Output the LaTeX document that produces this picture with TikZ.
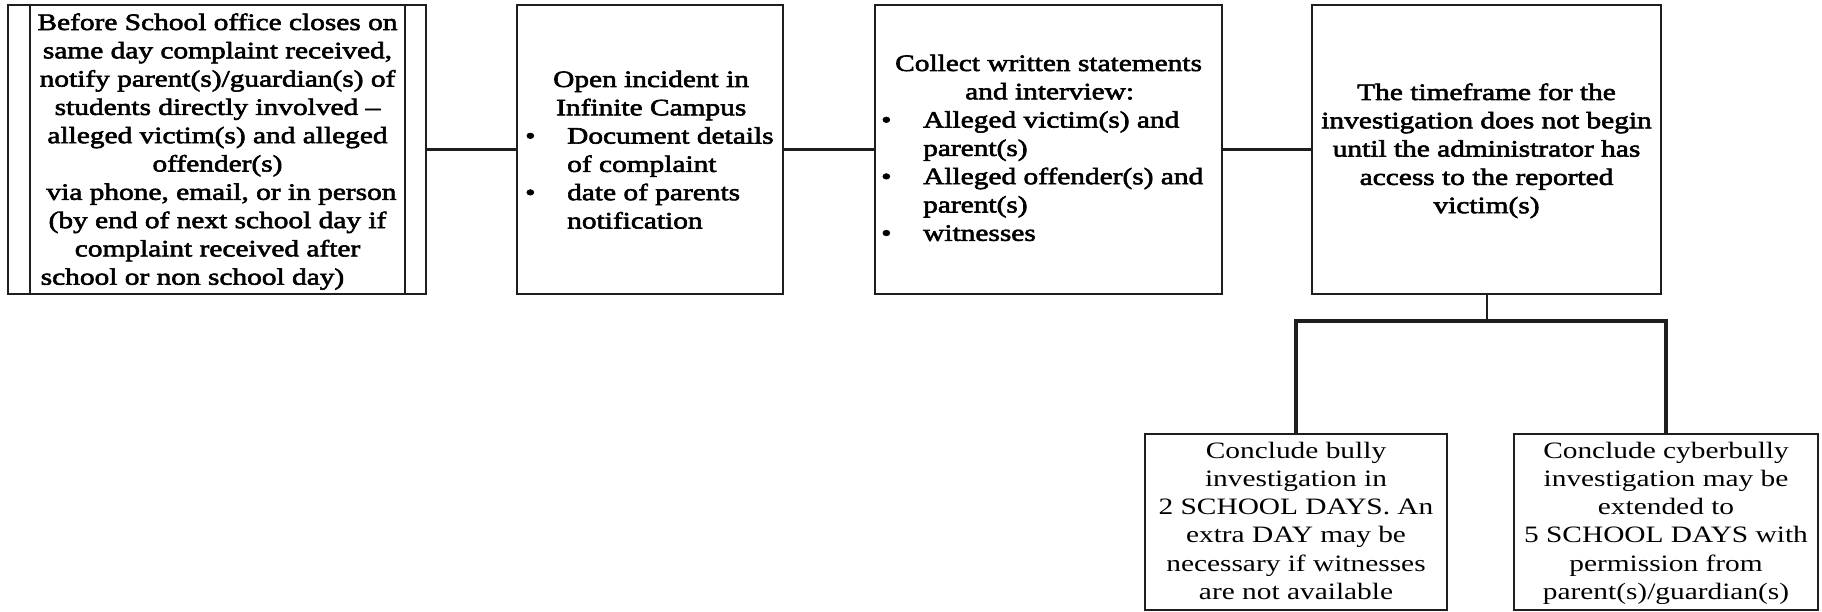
\documentclass[tikz,border=0pt]{standalone}
\usepackage{fontspec}
\setmainfont{Liberation Serif}[FakeStretch=1.25]
\newfontfamily\upfont{Liberation Serif}[FakeStretch=1.25,FakeBold=2.5]
\definecolor{ink}{RGB}{30,30,30}
\begin{document}
\begin{tikzpicture}[x=1pt,y=-1pt,
  boxst/.style={draw=ink,line width=2pt,rectangle,inner sep=0pt,fill=none},
  conn/.style={draw=ink,line width=3pt},
  stub/.style={draw=ink,line width=2pt},
  branch/.style={draw=ink,line width=3.5pt,line join=miter},
  uptxt/.style={inner sep=0pt,font=\upfont\fontsize{23.5}{28.3}\selectfont,text=black},
  lowtxt/.style={inner sep=0pt,font=\fontsize{23.5}{28.3}\selectfont,text=black}]
\useasboundingbox (0,0) rectangle (1822,612);

% boxes
\node[boxst,minimum width=418pt,minimum height=289pt] (b1) at (217,149.5) {};
\node[boxst,minimum width=266pt,minimum height=289pt] (b2) at (650,149.5) {};
\node[boxst,minimum width=347pt,minimum height=289pt] (b3) at (1048.5,149.5) {};
\node[boxst,minimum width=349pt,minimum height=289pt] (b4) at (1486.5,149.5) {};
\node[boxst,minimum width=302pt,minimum height=176pt] (b5) at (1296,522) {};
\node[boxst,minimum width=304pt,minimum height=176pt] (b6) at (1666,522) {};

% inner bars of first box
\draw[stub] ([xshift=23pt]b1.north west) -- ([xshift=23pt]b1.south west);
\draw[stub] ([xshift=-22pt]b1.north east) -- ([xshift=-22pt]b1.south east);

% texts (anchored at the baseline of the last line)
\node[uptxt,align=center,anchor=base] (t1) at (217.5,284.7) {Before School office closes on\\
same day complaint received,\\
notify parent(s)/guardian(s) of\\
students directly involved –\\
alleged victim(s) and alleged\\
offender(s)\\
\hspace*{8pt}via phone, email, or in person\\
(by end of next school day if\\
complaint received after\\
school or non school day)\hspace*{50pt}};

\node[uptxt,align=left,anchor=base west] (t2) at (525,228.5) {\hspace*{28pt}Open incident in\\
\hspace*{31pt}Infinite Campus\\
\makebox[42pt][l]{\textbullet}Document details\\
\hspace*{42pt}of complaint\\
\makebox[42pt][l]{\textbullet}date of parents\\
\hspace*{42pt}notification};

\node[uptxt,align=left,anchor=base west] (t3) at (881,240.8) {\hspace*{14pt}Collect written statements\\
\hspace*{84pt}and interview:\\
\makebox[42pt][l]{\textbullet}Alleged victim(s) and\\
\hspace*{42pt}parent(s)\\
\makebox[42pt][l]{\textbullet}Alleged offender(s) and\\
\hspace*{42pt}parent(s)\\
\makebox[42pt][l]{\textbullet}witnesses};

\node[uptxt,align=center,anchor=base] (t4) at (1486.5,213.2) {The timeframe for the\\
investigation does not begin\\
until the administrator has\\
access to the reported\\
victim(s)};

\node[lowtxt,align=center,anchor=base] (t5) at (1296,599.5) {Conclude bully\\
investigation in\\
2 SCHOOL DAYS. An\\
extra DAY may be\\
necessary if witnesses\\
are not available};

\node[lowtxt,align=center,anchor=base] (t6) at (1666,599.5) {Conclude cyberbully\\
investigation may be\\
extended to\\
5 SCHOOL DAYS with\\
permission from\\
parent(s)/guardian(s)};

% connectors
\coordinate (br) at (1486.5,321);
\draw[conn] (b1.east) -- (b2.west);
\draw[conn] (b2.east) -- (b3.west);
\draw[conn] (b3.east) -- (b4.west);
\draw[stub] (b4.south) -- (br);
\draw[branch] (b5.north) -- (b5.north |- br) -- (b6.north |- br) -- (b6.north);
\end{tikzpicture}
\end{document}
